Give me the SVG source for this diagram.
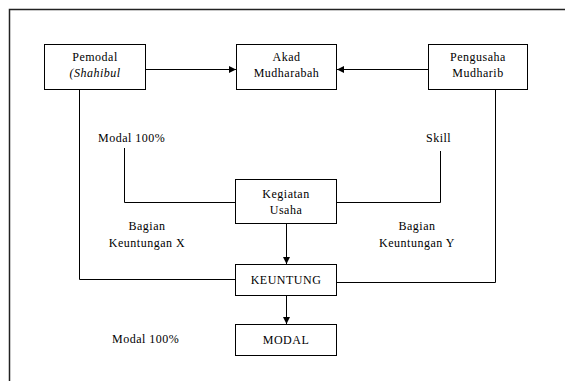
<svg xmlns="http://www.w3.org/2000/svg" width="565" height="381" viewBox="0 0 565 381">
<defs>
<marker id="ah" markerWidth="8" markerHeight="8" refX="7" refY="4" orient="auto" markerUnits="userSpaceOnUse">
<path d="M0,0.5 L7,4 L0,7.5 Z" fill="#000"/>
</marker>
</defs>
<style>
.box{fill:#fff;stroke:#000;stroke-width:1}
text{font-family:'Liberation Serif','DejaVu Serif',serif;font-size:12px;letter-spacing:0.5px;fill:#000}
.c{text-anchor:middle}
.ln{fill:none;stroke:#000;stroke-width:1}
</style>
<rect x="9.5" y="9.5" width="600" height="400" fill="#fff" stroke="#222" stroke-width="1.5"/>
<g id="connectors">
<line class="ln" x1="146" y1="69.5" x2="236" y2="69.5" marker-end="url(#ah)"/>
<line class="ln" x1="428" y1="69.5" x2="337" y2="69.5" marker-end="url(#ah)"/>
<polyline class="ln" points="79.5,89 79.5,279.5 235,279.5"/>
<polyline class="ln" points="495.5,89 495.5,282.5 337,282.5"/>
<polyline class="ln" points="124.5,148 124.5,202.5 235,202.5"/>
<polyline class="ln" points="440.5,151 440.5,202.5 336,202.5"/>
<line class="ln" x1="286.5" y1="223" x2="286.5" y2="264" marker-end="url(#ah)"/>
<line class="ln" x1="286.5" y1="295" x2="286.5" y2="324" marker-end="url(#ah)"/>
</g>
<g id="pemodal">
<rect class="box" x="44.5" y="44.5" width="101" height="45"/>
<text class="c" x="95" y="61" font-family="Liberation Serif, serif">Pemodal</text>
<text class="c" x="95" y="77" font-style="italic" font-family="Liberation Serif, serif">(Shahibul</text>
</g>
<g id="akad">
<rect class="box" x="236.5" y="44.5" width="100" height="45"/>
<text class="c" x="286.5" y="61" font-family="Liberation Serif, serif">Akad</text>
<text class="c" x="286.5" y="77" font-family="Liberation Serif, serif">Mudharabah</text>
</g>
<g id="pengusaha">
<rect class="box" x="428.5" y="44.5" width="99" height="45"/>
<text class="c" x="478" y="61" font-family="Liberation Serif, serif">Pengusaha</text>
<text class="c" x="478" y="77" font-family="Liberation Serif, serif">Mudharib</text>
</g>
<g id="kegiatan">
<rect class="box" x="235.5" y="179.5" width="101" height="44"/>
<text class="c" x="286" y="198" font-family="Liberation Serif, serif">Kegiatan</text>
<text class="c" x="286" y="214" font-family="Liberation Serif, serif">Usaha</text>
</g>
<g id="keuntung">
<rect class="box" x="235.5" y="264.5" width="101" height="31"/>
<text class="c" x="286" y="284" font-family="Liberation Serif, serif">KEUNTUNG</text>
</g>
<g id="modal">
<rect class="box" x="235.5" y="324.5" width="101" height="31"/>
<text class="c" x="286" y="344" font-family="Liberation Serif, serif">MODAL</text>
</g>
<g id="labels">
<text x="98" y="142" font-family="Liberation Serif, serif">Modal 100%</text>
<text x="426" y="142" font-family="Liberation Serif, serif">Skill</text>
<text class="c" x="147" y="230" font-family="Liberation Serif, serif">Bagian</text>
<text class="c" x="147" y="247" font-family="Liberation Serif, serif">Keuntungan X</text>
<text class="c" x="417" y="230" font-family="Liberation Serif, serif">Bagian</text>
<text class="c" x="417" y="247" font-family="Liberation Serif, serif">Keuntungan Y</text>
<text x="112" y="343" font-family="Liberation Serif, serif">Modal 100%</text>
</g>
</svg>
